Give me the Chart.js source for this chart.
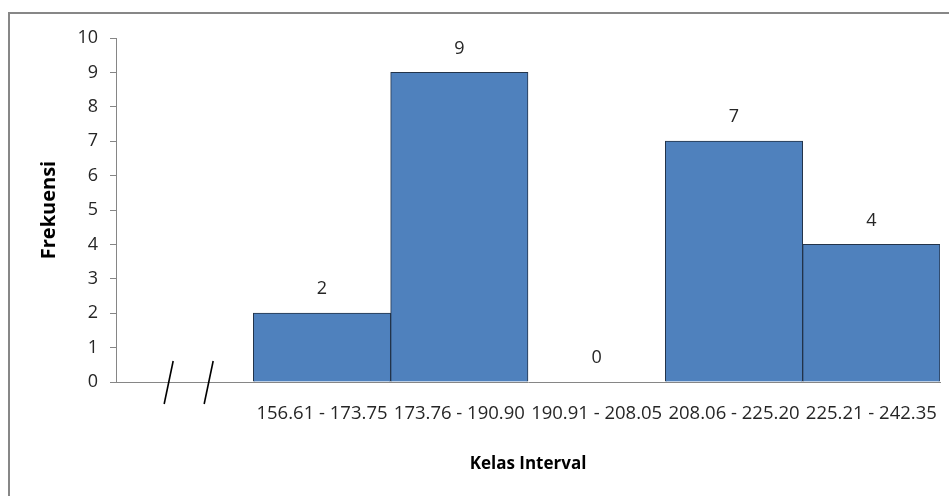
<!DOCTYPE html>
<html>
<head>
<meta charset="utf-8">
<script src="https://cdn.jsdelivr.net/npm/chart.js@4/dist/chart.umd.min.js"></script>
<style>
  html, body { margin: 0; padding: 0; background: #ffffff; }
  canvas { display: block; }
</style>
</head>
<body>
<canvas id="hist" width="949" height="496"></canvas>
<script>
// Class intervals (first slot is left empty for the axis break)
const categories = ['', '156.61 - 173.75', '173.76 - 190.90', '190.91 - 208.05', '208.06 - 225.20', '225.21 - 242.35'];
// Frequency per class interval
const frequencies = [null, 2, 9, 0, 7, 4];
// Y axis tick range
const yMin = 0;
const yMax = 10;
const yStep = 1;

const FONT = "'Open Sans', 'Noto Sans', sans-serif";
const AXIS_COLOR = '#868686';

// Outer frame around the chart
const framePlugin = {
  id: 'frame',
  beforeDraw(chart) {
    const ctx = chart.ctx;
    ctx.save();
    ctx.fillStyle = '#ffffff';
    ctx.fillRect(0, 0, chart.width, chart.height);
    ctx.strokeStyle = '#878787';
    ctx.lineWidth = 2;
    ctx.strokeRect(9, 13, chart.width + 20, chart.height + 20);
    ctx.restore();
  }
};

// Value labels above each bar
const valueLabels = {
  id: 'valueLabels',
  afterDatasetsDraw(chart) {
    const ctx = chart.ctx;
    const meta = chart.getDatasetMeta(0);
    const data = chart.data.datasets[0].data;
    ctx.save();
    ctx.font = '18px ' + FONT;
    ctx.fillStyle = '#262626';
    ctx.textAlign = 'center';
    ctx.textBaseline = 'middle';
    meta.data.forEach((bar, i) => {
      if (data[i] === null) return;
      ctx.fillText(String(data[i]), bar.x, bar.y - 24);
    });
    ctx.restore();
  }
};

// Axis break marks in the empty first slot
const axisBreak = {
  id: 'axisBreak',
  afterDraw(chart) {
    const ctx = chart.ctx;
    const x = chart.scales.x;
    const y0 = chart.scales.y.getPixelForValue(0);
    const xc = x.getPixelForValue(0);
    ctx.save();
    ctx.strokeStyle = '#000000';
    ctx.lineWidth = 1.6;
    [-16, 24].forEach(dx => {
      ctx.beginPath();
      ctx.moveTo(xc + dx + 4.5, y0 - 21);
      ctx.lineTo(xc + dx - 4.5, y0 + 22);
      ctx.stroke();
    });
    ctx.restore();
  }
};

new Chart(document.getElementById('hist'), {
  type: 'bar',
  data: {
    labels: categories,
    datasets: [{
      data: frequencies,
      backgroundColor: '#4F81BD',
      borderColor: '#23344a',
      borderWidth: 1,
      barPercentage: 1,
      categoryPercentage: 1
    }]
  },
  options: {
    responsive: false,
    devicePixelRatio: 1,
    animation: false,
    layout: { padding: { left: 10, right: 9, top: 38, bottom: 0 } },
    plugins: {
      legend: { display: false },
      tooltip: { enabled: false }
    },
    scales: {
      x: {
        afterFit(s) { s.height = 114; s.paddingLeft = 0; s.paddingRight = 0; },
        grid: { display: false, drawTicks: false },
        border: { display: true, color: AXIS_COLOR, width: 1 },
        ticks: {
          padding: 21,
          maxRotation: 0,
          autoSkip: false,
          color: '#262626',
          font: { family: FONT, size: 18.5 }
        },
        title: {
          display: true,
          text: 'Kelas Interval',
          color: '#000000',
          font: { family: FONT, size: 17, weight: 'bold', lineHeight: 1.2 },
          padding: { top: 0, bottom: 22 }
        }
      },
      y: {
        min: yMin,
        max: yMax,
        afterFit(s) { s.width = 106; },
        grid: {
          display: true,
          drawOnChartArea: false,
          drawTicks: true,
          tickLength: 6,
          color: AXIS_COLOR
        },
        border: { display: true, color: AXIS_COLOR, width: 1 },
        ticks: {
          stepSize: yStep,
          padding: 12,
          color: '#262626',
          font: { family: FONT, size: 18 }
        },
        title: {
          display: true,
          text: 'Frekuensi',
          color: '#000000',
          font: { family: FONT, size: 20, weight: 'bold', lineHeight: 1.2 },
          padding: { top: 27, bottom: 0 }
        }
      }
    }
  },
  plugins: [framePlugin, valueLabels, axisBreak]
});
</script>
</body>
</html>
